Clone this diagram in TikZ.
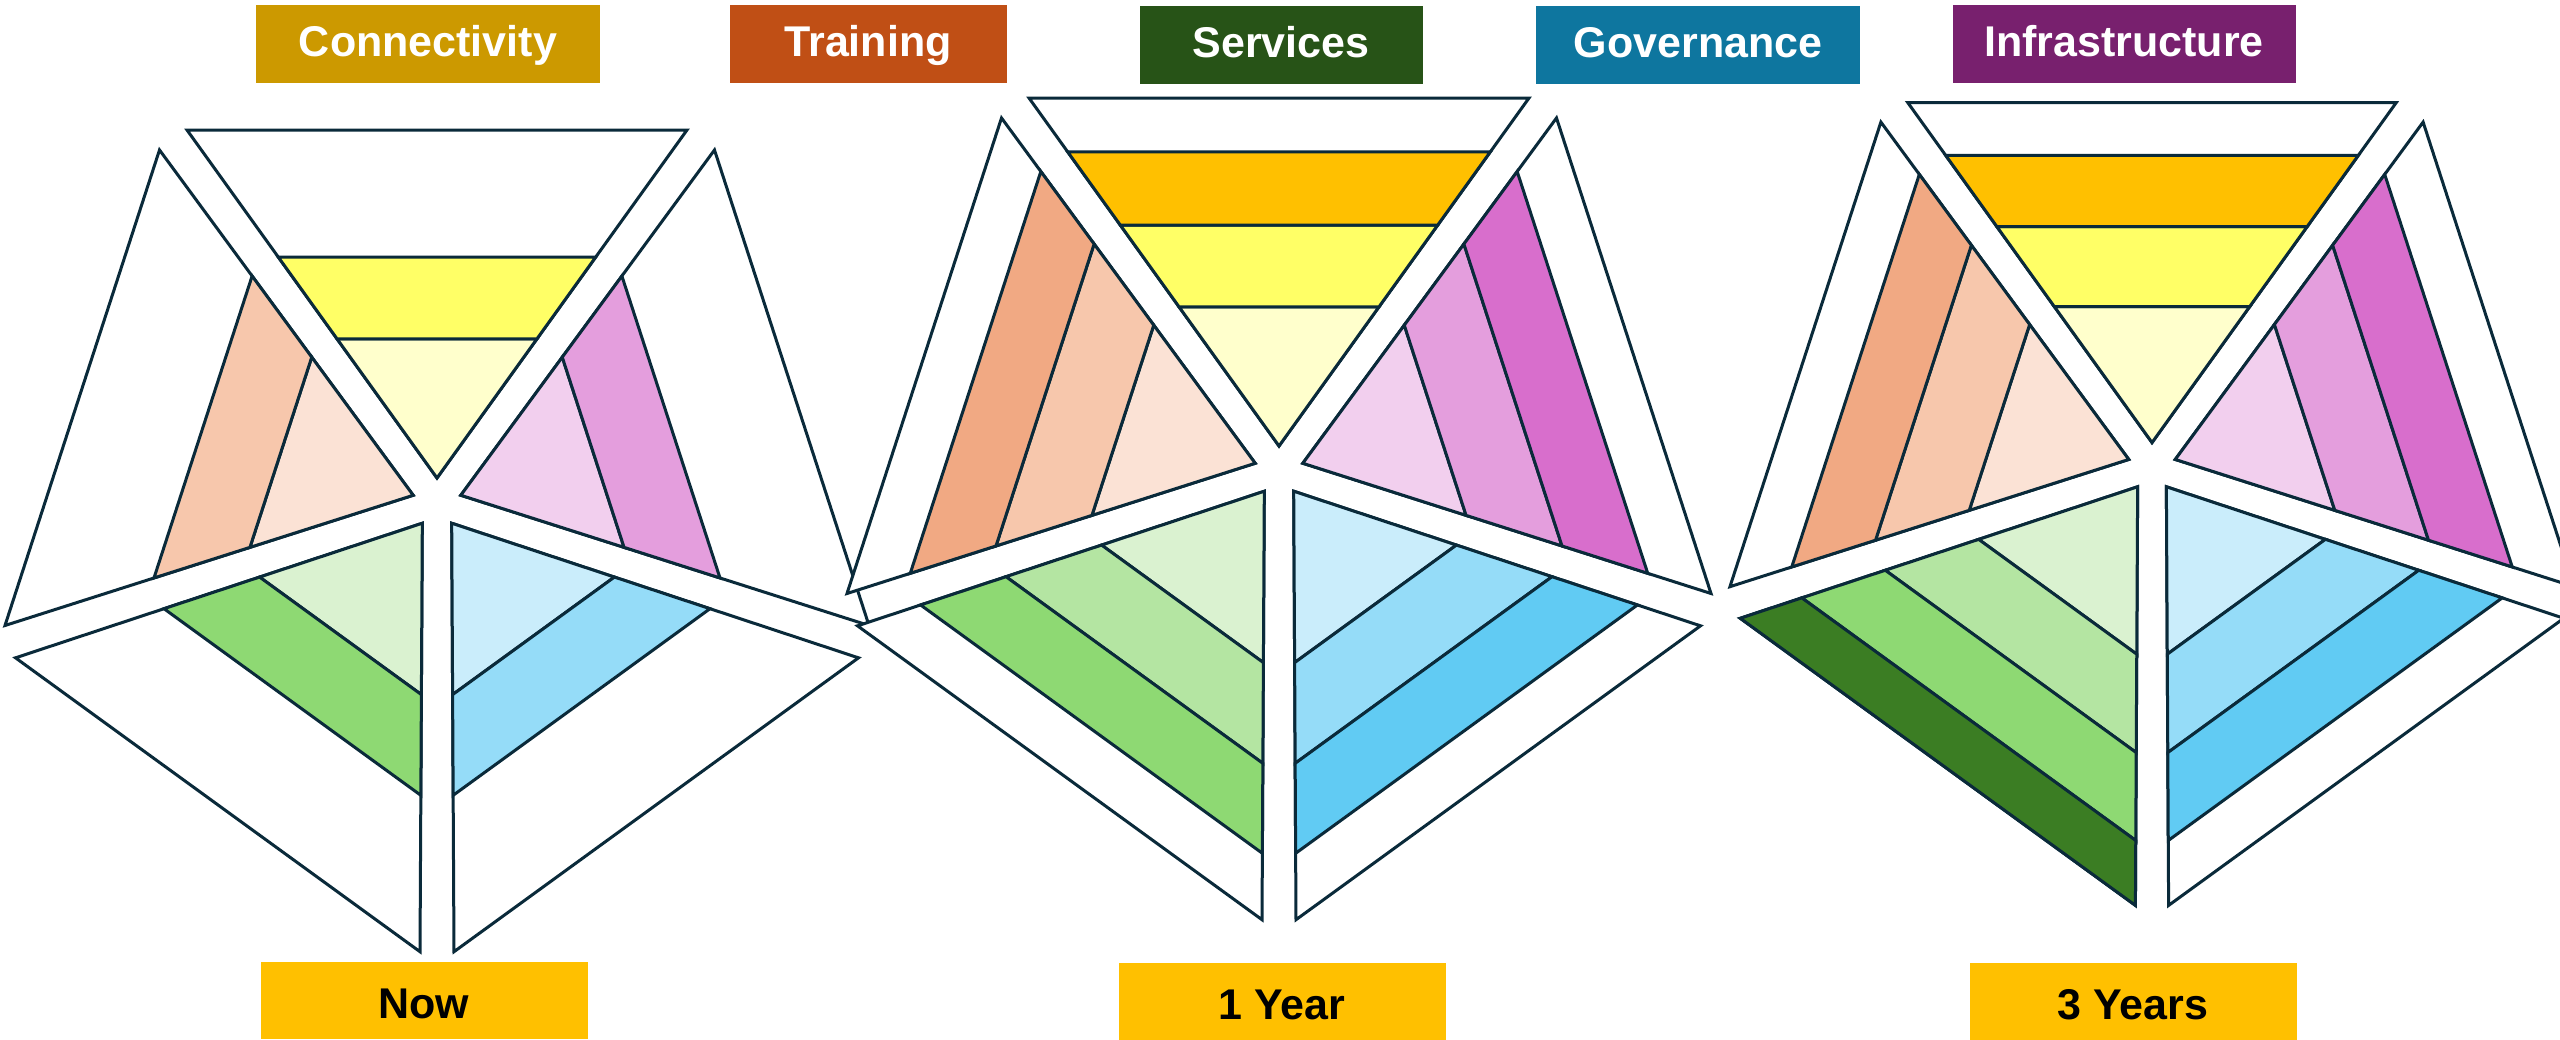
\documentclass[tikz,border=0pt]{standalone}
\usepackage{fontspec}
\setmainfont{Liberation Sans}
\usepackage{tikz}

\definecolor{edge}{HTML}{0A2A3A}
\definecolor{stagebg}{HTML}{FFC000}
% heading colours
\definecolor{hcn}{HTML}{CC9900}
\definecolor{htr}{HTML}{C04F15}
\definecolor{hsv}{HTML}{275317}
\definecolor{hgv}{HTML}{0E769F}
\definecolor{hin}{HTML}{78206E}
% band colours, lightest first
\definecolor{cn1}{HTML}{FFFFCC}
\definecolor{cn2}{HTML}{FFFF66}
\definecolor{cn3}{HTML}{FFC000}
\definecolor{tr1}{HTML}{FBE2D5}
\definecolor{tr2}{HTML}{F7C7AC}
\definecolor{tr3}{HTML}{F1A983}
\definecolor{sv1}{HTML}{DAF2D0}
\definecolor{sv2}{HTML}{B4E5A2}
\definecolor{sv3}{HTML}{8ED973}
\definecolor{sv4}{HTML}{3B7D23}
\definecolor{gv1}{HTML}{CAEDFB}
\definecolor{gv2}{HTML}{95DCF8}
\definecolor{gv3}{HTML}{61CBF3}
\definecolor{in1}{HTML}{F2CFEE}
\definecolor{in2}{HTML}{E49EDD}
\definecolor{in3}{HTML}{D86ECC}

\def\bandstops{{0,0.4,0.635,0.845,1}}
\newcommand\drawfacet[2]{%
  \begin{scope}[rotate=#1]
    \draw[facet] (0,25) -- (-250,373) -- (250,373) -- cycle;
    \edef\facetcols{#2}
    \foreach \col [count=\k] in \facetcols {
      \pgfmathsetmacro\fa{\bandstops[\k-1]}
      \pgfmathsetmacro\fb{\bandstops[\k]}
      \draw[band, fill=\col] (-250*\fa,25+348*\fa) -- (-250*\fb,25+348*\fb)
        -- (250*\fb,25+348*\fb) -- (250*\fa,25+348*\fa) -- cycle;
    }
  \end{scope}}

\begin{document}
\begin{tikzpicture}[
  x=1pt, y=1pt,
  facet/.style={draw=edge, line width=3pt, fill=white},
  band/.style={draw=edge, line width=3pt},
  heading/.style={inner sep=0pt, text=white, minimum height=78pt,
    font=\fontsize{43}{50}\selectfont\bfseries, text height=25pt, text depth=0pt},
  stage/.style={inner sep=0pt, fill=stagebg, minimum height=77pt, minimum width=327pt,
    font=\fontsize{43}{50}\selectfont\bfseries, text height=35pt, text depth=0pt}
]
\useasboundingbox (0,0) rectangle (2560,-1039);

% now
\begin{scope}[shift={(437,-503)}]
  \foreach \rot/\cols in {0/{cn1,cn2},72/{tr1,tr2},144/{sv1,sv3},216/{gv1,gv2},288/{in1,in2}}
  {
    \drawfacet{\rot}{\cols}
  }
\end{scope}
% one year
\begin{scope}[shift={(1279,-471)}]
  \foreach \rot/\cols in {0/{cn1,cn2,cn3},72/{tr1,tr2,tr3},144/{sv1,sv2,sv3},216/{gv1,gv2,gv3},288/{in1,in2,in3}}
  {
    \drawfacet{\rot}{\cols}
  }
\end{scope}
% three years
\begin{scope}[shift={(2152,-467)}, scale=0.977]
  \foreach \rot/\cols in {0/{cn1,cn2,cn3},72/{tr1,tr2,tr3},144/{sv1,sv2,sv3,sv4},216/{gv1,gv2,gv3},288/{in1,in2,in3}}
  {
    \drawfacet{\rot}{\cols}
  }
\end{scope}

\node[heading, fill=hcn, minimum width=344pt] (connectivity) at (428,-44) {Connectivity};
\node[heading, fill=htr, minimum width=277pt] (training) at (868,-44) {Training};
\node[heading, fill=hsv, minimum width=283pt] (services) at (1281,-45) {Services};
\node[heading, fill=hgv, minimum width=324pt] (governance) at (1698,-45) {Governance};
\node[heading, fill=hin, minimum width=343pt] (infrastructure) at (2124,-44) {Infrastructure};

\node[stage] (now) at (424,-1000.5) {Now};
\node[stage] (year1) at (1282,-1001.5) {1 Year};
\node[stage] (year3) at (2133,-1001.5) {3 Years};
\end{tikzpicture}
\end{document}
